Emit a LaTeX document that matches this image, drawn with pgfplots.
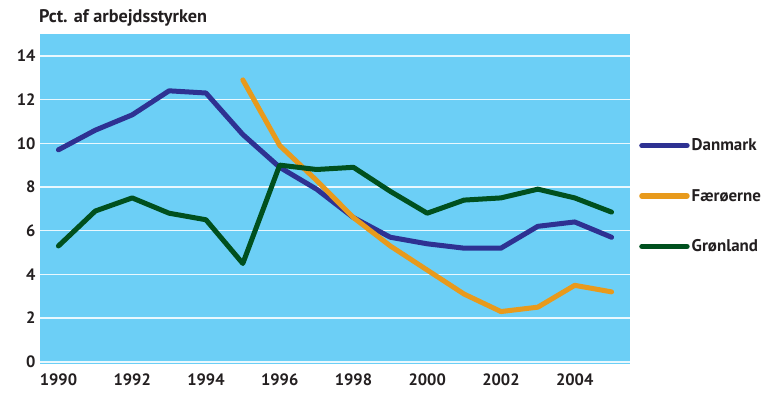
\documentclass[border=0pt]{standalone}
\usepackage{pgfplots}
\pgfplotsset{compat=1.18}
\usepackage{fontspec}
\setmainfont{PT Sans}
\definecolor{bg}{HTML}{6CCFF6}
\definecolor{dk}{HTML}{2E3192}
\definecolor{fo}{HTML}{E89A1C}
\definecolor{gl}{HTML}{00501E}
\definecolor{txt}{HTML}{231F20}
\begin{document}
\begin{tikzpicture}[x=1bp,y=1bp]
\path[use as bounding box] (0,0) rectangle (766,400);
\begin{axis}[
  at={(40bp,36bp)}, anchor=south west,
  scale only axis, width=590bp, height=330bp,
  xmin=1989.5, xmax=2005.5, ymin=-0.1, ymax=15,
  axis line style={draw=none},
  axis background/.style={fill=bg},
  xtick={1990,1992,...,2004}, ytick={0,2,...,14},
  xticklabel style={/pgf/number format/1000 sep={}},
  /pgf/number format/assume math mode=true,
  tick style={draw=none},
  ymajorgrids, grid style={white!85!bg, line width=1.5pt},
  ticklabel style={font=\bfseries\fontsize{16.5}{18}\selectfont, text=txt},
  yticklabel style={xshift=-1bp},
  xticklabel style={yshift=-6bp},
  legend style={at={(1.0,0.695)}, anchor=north west, xshift=8bp, draw=none, fill=none,
    font=\bfseries\fontsize{17}{18}\selectfont, text=txt,
    row sep=33bp, inner xsep=1bp},
  legend image code/.code={\draw[#1, line width=5.5bp, line cap=round] (0bp,0bp) -- (45bp,0bp);},
  legend cell align=left,
  every axis plot/.append style={line width=5bp, line join=round, line cap=round},
  clip=false,
]
\addplot[dk] coordinates {(1990,9.7)(1991,10.6)(1992,11.3)(1993,12.4)(1994,12.3)(1995,10.4)(1996,8.9)(1997,7.9)(1998,6.6)(1999,5.7)(2000,5.4)(2001,5.2)(2002,5.2)(2003,6.2)(2004,6.4)(2005,5.7)};
\addlegendentry{Danmark}
\addplot[fo] coordinates {(1995,12.9)(1996,9.9)(1997,8.3)(1998,6.6)(1999,5.3)(2000,4.2)(2001,3.1)(2002,2.3)(2003,2.5)(2004,3.5)(2005,3.2)};
\addlegendentry{Færøerne}
\addplot[gl] coordinates {(1990,5.3)(1991,6.9)(1992,7.5)(1993,6.8)(1994,6.5)(1995,4.5)(1996,9.0)(1997,8.8)(1998,8.9)(1999,7.8)(2000,6.8)(2001,7.4)(2002,7.5)(2003,7.9)(2004,7.5)(2005,6.85)};
\addlegendentry{Grønland}
\end{axis}
\node[anchor=west, inner sep=0pt, font=\bfseries\fontsize{18.3}{20}\selectfont, text=txt] at (39bp,382bp) {Pct. af arbejdsstyrken};
\end{tikzpicture}
\end{document}
